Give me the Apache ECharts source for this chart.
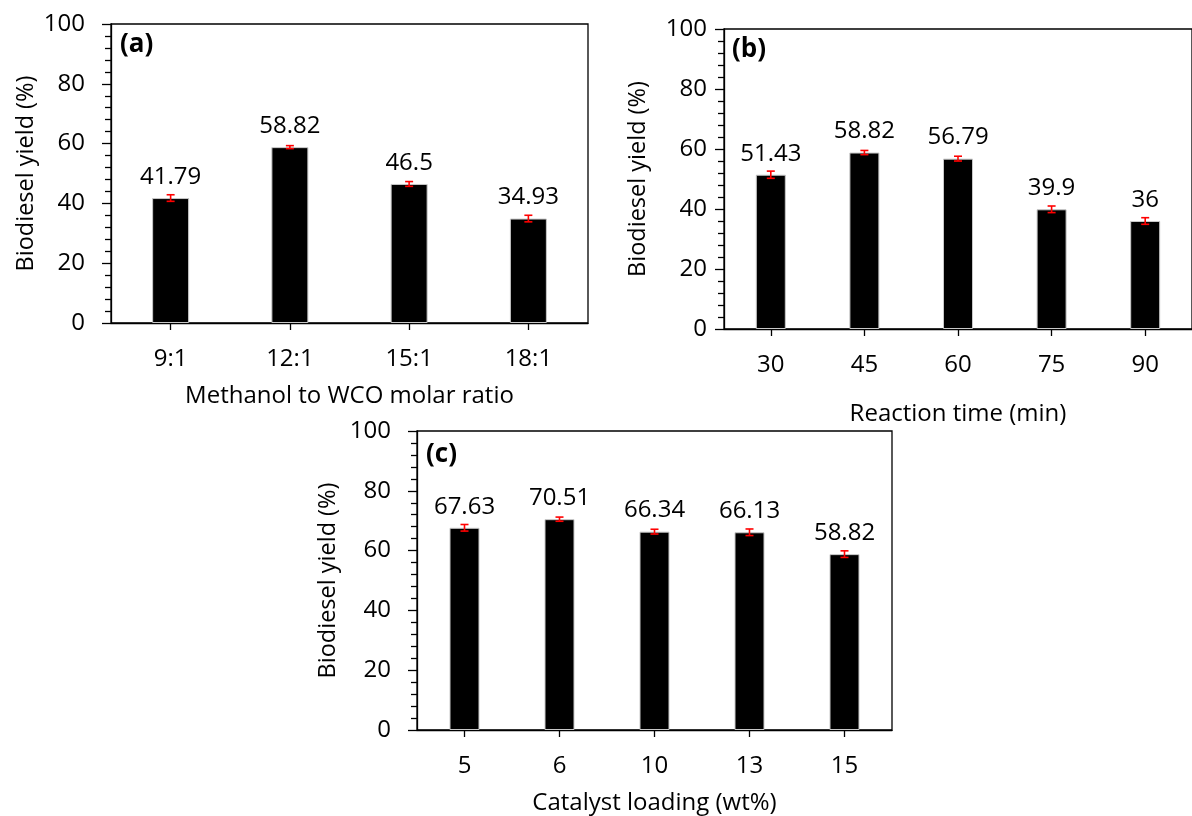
<!DOCTYPE html>
<html>
<head>
<meta charset="utf-8">
<script src="https://cdn.jsdelivr.net/npm/echarts@6/dist/echarts.min.js"></script>
<style>html,body{margin:0;padding:0;background:#fff;}#c{width:1192px;height:816px;}</style>
</head>
<body>
<div id="c"></div>
<script>
// ---- data ----
const catsA = ['9:1', '12:1', '15:1', '18:1'];
const valsA = [41.79, 58.82, 46.5, 34.93];
const errA = [1.1, 0.5, 0.8, 1.1];

const catsB = ['30', '45', '60', '75', '90'];
const valsB = [51.43, 58.82, 56.79, 39.9, 36];
const errB = [1.2, 0.7, 0.8, 1.1, 1.1];

const catsC = ['5', '6', '10', '13', '15'];
const valsC = [67.63, 70.51, 66.34, 66.13, 58.82];
const errC = [1.1, 0.7, 0.8, 1.1, 1.1];

const yTitle = 'Biodiesel yield (%)';
const xTitles = ['Methanol to WCO molar ratio', 'Reaction time (min)', 'Catalyst loading (wt%)'];
const panelTags = ['(a)', '(b)', '(c)'];

// ---- chart ----
const FONT = "'Open Sans', 'Noto Sans', sans-serif";
const chart = echarts.init(document.getElementById('c'), null, {renderer: 'canvas'});

const grids = [
  {left: 111, top: 24, width: 477, height: 299},
  {left: 724, top: 29, width: 476, height: 300},
  {left: 417, top: 431, width: 475, height: 300}
];
const panels = [
  {cats: catsA, vals: valsA, errs: errA, labelMargin: 26, yGap: 73, xGap: 61, barW: 37},
  {cats: catsB, vals: valsB, errs: errB, labelMargin: 17, yGap: 74, xGap: 73, barW: 30},
  {cats: catsC, vals: valsC, errs: errC, labelMargin: 26, yGap: 77, xGap: 61, barW: 30}
];

const axisLine = {show: true, lineStyle: {color: '#000', width: 1.3}};

const option = {
  backgroundColor: '#fff',
  animation: false,
  grid: grids.map(g => Object.assign({show: true, borderColor: '#000', borderWidth: 1.3, backgroundColor: 'transparent', containLabel: false}, g)),
  title: [
    {text: panelTags[0], left: 120, top: 32},
    {text: panelTags[1], left: 732, top: 37},
    {text: panelTags[2], left: 426, top: 442}
  ].map(t => Object.assign(t, {textStyle: {fontFamily: FONT, fontWeight: 'bold', fontSize: 26, color: '#000'}, padding: 0})),
  xAxis: panels.map((p, i) => ({
    type: 'category', gridIndex: i, data: p.cats,
    axisLine: axisLine,
    axisTick: {show: true, alignWithLabel: true, length: 7, inside: false, lineStyle: {color: '#000', width: 1.3}},
    axisLabel: {fontFamily: FONT, fontSize: 24, color: '#000', margin: 24, interval: 0},
    name: xTitles[i], nameLocation: 'middle', nameGap: p.xGap,
    nameTextStyle: {fontFamily: FONT, fontSize: 24, color: '#000'},
    splitLine: {show: false}
  })),
  yAxis: panels.map((p, i) => ({
    type: 'value', gridIndex: i, min: 0, max: 100, interval: 20,
    axisLine: axisLine,
    axisTick: {show: true, length: 9, inside: false, lineStyle: {color: '#000', width: 1.3}},
    minorTick: {show: true, splitNumber: 5, length: 6, lineStyle: {color: '#000', width: 1.3}},
    axisLabel: {fontFamily: FONT, fontSize: 24, color: '#000', margin: p.labelMargin},
    name: yTitle, nameLocation: 'middle', nameGap: p.yGap, nameRotate: 90,
    nameTextStyle: {fontFamily: FONT, fontSize: 23.5, color: '#000'},
    splitLine: {show: false}, minorSplitLine: {show: false}
  })),
  series: []
};

panels.forEach((p, i) => {
  option.series.push({
    type: 'bar', xAxisIndex: i, yAxisIndex: i,
    data: p.vals, barWidth: p.barW,
    itemStyle: {color: '#000', borderColor: '#c8c8c8', borderWidth: 1},
    label: {show: true, position: 'top', distance: 9, fontFamily: FONT, fontSize: 24, color: '#000',
            formatter: (d) => String(p.vals[d.dataIndex])},
    z: 2
  });
  option.series.push({
    type: 'custom', xAxisIndex: i, yAxisIndex: i,
    data: p.vals.map((v, k) => [k, v - p.errs[k], v + p.errs[k]]),
    renderItem: function (params, api) {
      const x = api.value(0);
      const lo = api.coord([x, api.value(1)]);
      const hi = api.coord([x, api.value(2)]);
      const hw = 4;
      const st = {stroke: '#ff0000', lineWidth: 1.6};
      return {type: 'group', children: [
        {type: 'line', shape: {x1: lo[0], y1: lo[1], x2: hi[0], y2: hi[1]}, style: st},
        {type: 'line', shape: {x1: lo[0] - hw, y1: lo[1], x2: lo[0] + hw, y2: lo[1]}, style: st},
        {type: 'line', shape: {x1: hi[0] - hw, y1: hi[1], x2: hi[0] + hw, y2: hi[1]}, style: st}
      ]};
    },
    z: 5
  });
});

chart.setOption(option);
</script>
</body>
</html>
